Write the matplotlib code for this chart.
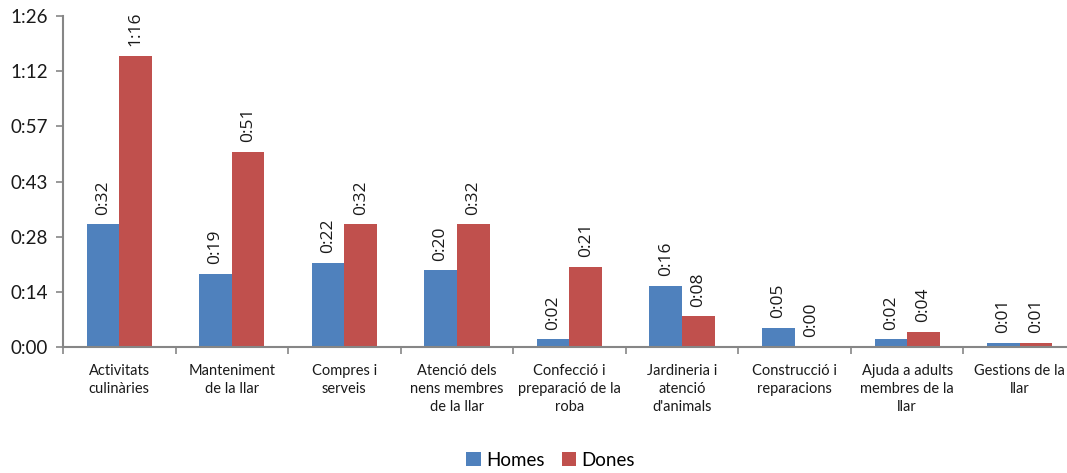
import matplotlib
matplotlib.use("Agg")
import matplotlib.pyplot as plt
import numpy as np

categories = [
    "Activitats\nculinàries",
    "Manteniment\nde la llar",
    "Compres i\nserveis",
    "Atenció dels\nnens membres\nde la llar",
    "Confecció i\npreparació de la\nroba",
    "Jardineria i\natenció\nd'animals",
    "Construcció i\nreparacions",
    "Ajuda a adults\nmembres de la\nllar",
    "Gestions de la\nllar",
]
homes = [32, 19, 22, 20, 2, 16, 5, 2, 1]   # minutes
dones = [76, 51, 32, 32, 21, 8, 0, 4, 1]   # minutes
ytick_vals = [0, 14.4, 28.8, 43.2, 57.6, 72.0, 86.4]
ytick_labels = ["0:00", "0:14", "0:28", "0:43", "0:57", "1:12", "1:26"]
series_names = ["Homes", "Dones"]

BLUE = "#4F81BD"
RED = "#C0504D"
AXC = "#868686"
FONT = ["Lato", "DejaVu Sans"]
plt.rcParams["font.family"] = FONT

def fmt(m):
    return f"{int(m)//60}:{int(m)%60:02d}"

fig = plt.figure(figsize=(10.67, 4.73), dpi=100)
ax = fig.add_axes([63/1067, 126/473, 1013/1067, 331/473])

x = np.arange(len(categories))
w = 0.29
b1 = ax.bar(x - w/2, homes, w, color=BLUE, label=series_names[0])
b2 = ax.bar(x + w/2, dones, w, color=RED, label=series_names[1])

for bars, vals in ((b1, homes), (b2, dones)):
    for rect, v in zip(bars, vals):
        ax.annotate(fmt(v), (rect.get_x() + rect.get_width()/2, rect.get_height()),
                    xytext=(0, 7), textcoords="offset points",
                    ha="center", va="bottom", rotation=90, fontsize=12.5,
                    family=["Open Sans", "DejaVu Sans"], color="#1a1a1a")

ax.set_xlim(-0.5, len(categories) - 0.5)
ax.set_ylim(0, 86.4)
ax.set_yticks(ytick_vals)
ax.set_yticklabels(ytick_labels, fontsize=13.5, color="#1a1a1a")
ax.set_xticks(x)
ax.set_xticklabels(categories, fontsize=10.5, color="#1a1a1a", linespacing=1.4)
ax.tick_params(axis="x", which="major", length=0, pad=12)
ax.set_xticks(np.arange(len(categories)) - 0.5, minor=True)
ax.tick_params(axis="x", which="minor", length=5, color=AXC, width=1.2)
ax.tick_params(axis="y", length=5, color=AXC, width=1.2, pad=6)

for s in ("top", "right"):
    ax.spines[s].set_visible(False)
for s in ("left", "bottom"):
    ax.spines[s].set_color(AXC)
    ax.spines[s].set_linewidth(1.5)

fig.legend(handles=[b1, b2], labels=series_names, loc="center",
           bbox_to_anchor=(0.516, 0.027), ncol=2, frameon=False,
           fontsize=13.5, handlelength=0.75, handleheight=0.75,
           handletextpad=0.3, columnspacing=0.9)

fig.savefig("out.png", dpi=100)
